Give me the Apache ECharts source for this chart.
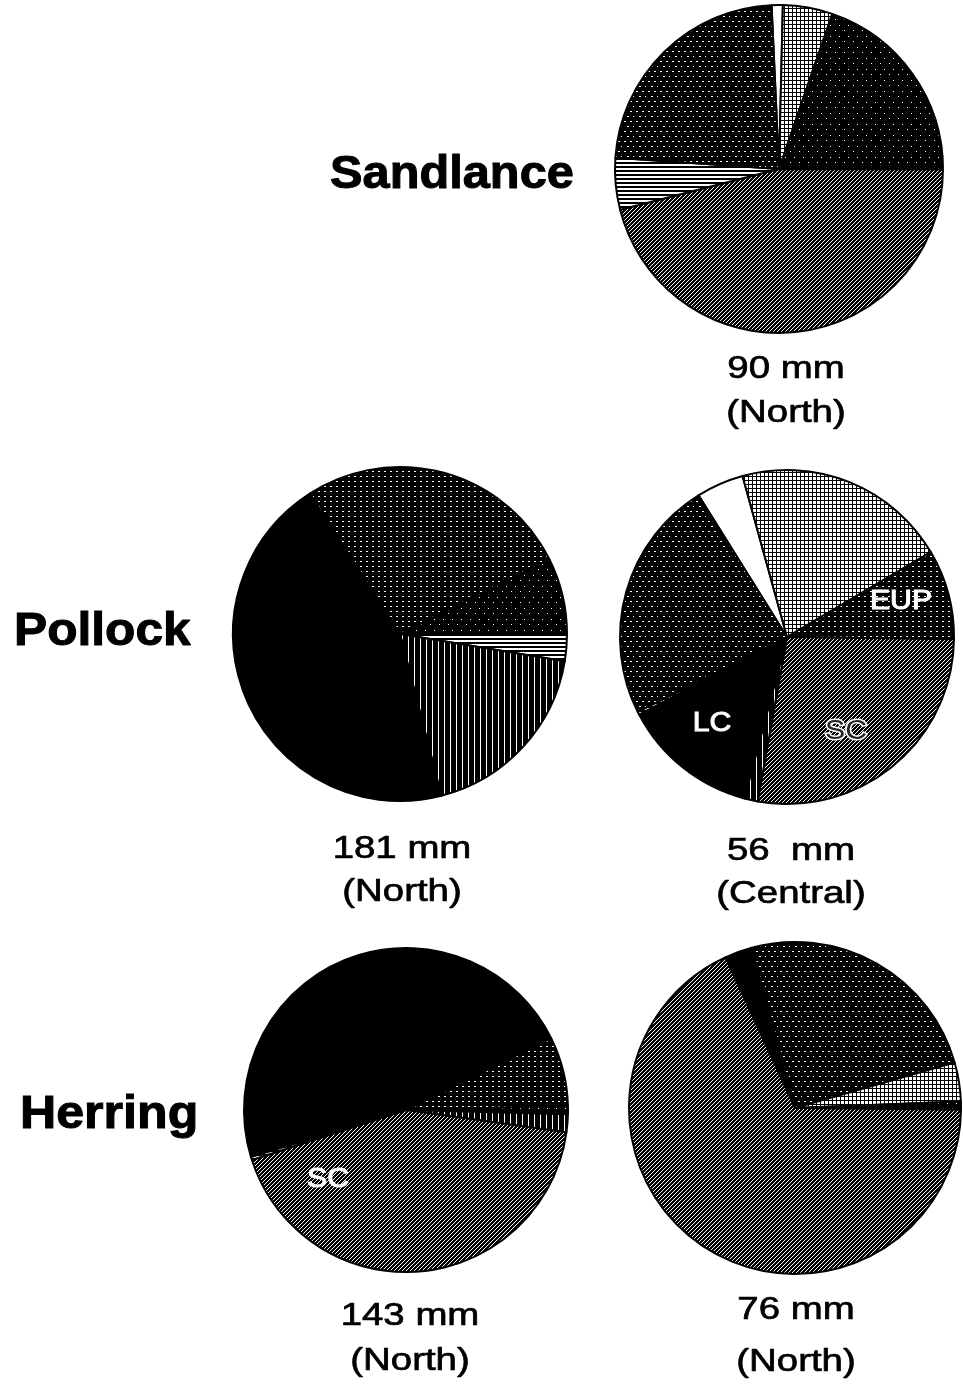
<!DOCTYPE html>
<html>
<head>
<meta charset="utf-8">
<title>Diet composition pies</title>
<script src="https://cdn.jsdelivr.net/npm/echarts@6/dist/echarts.min.js"></script>
<style>
  html, body { margin: 0; padding: 0; background: #fff; }
  #chart { width: 963px; height: 1385px; }
</style>
</head>
<body>
<div id="chart"></div>
<script>
// ---- data: percent of diet by prey group, listed clockwise ----
const sandlanceNorth90Prey = ['Fish', 'Larvaceans', 'Decapod larvae', 'Small copepods', 'Pteropods', 'Other'];
const sandlanceNorth90Pct  = [1.1, 4.9, 19.8, 46.0, 5.1, 23.2];

const pollockNorth181Prey = ['Euphausiids', 'Decapod larvae', 'Pteropods', 'Amphipods', 'Large copepods'];
const pollockNorth181Pct  = [26.7, 7.4, 2.6, 18.4, 44.9];

const pollockCentral56Prey = ['Fish', 'Larvaceans', 'Euphausiids', 'Small copepods', 'Amphipods', 'Large copepods', 'Pteropods', 'Other'];
const pollockCentral56Pct  = [4.6, 20.8, 8.7, 27.6, 1.3, 13.2, 0.3, 23.5];

const herringNorth143Prey = ['Large copepods', 'Euphausiids', 'Decapod larvae', 'Amphipods', 'Small copepods', 'Pteropods'];
const herringNorth143Pct  = [47.4, 6.9, 0.8, 1.8, 42.8, 0.3];

const herringNorth76Prey = ['Large copepods', 'Other', 'Larvaceans', 'Decapod larvae', 'Small copepods'];
const herringNorth76Pct  = [2.7, 24.8, 3.8, 0.8, 68.0];

// ---- text ----
const speciesTitles = ['Sandlance', 'Pollock', 'Herring'];
const pieCaptions = [
  ['90 mm', '(North)'],
  ['181 mm', '(North)'],
  ['56  mm', '(Central)'],
  ['143 mm', '(North)'],
  ['76 mm', '(North)']
];
const sliceTags = ['EUP', 'LC', 'SC', 'SC'];

// ---- monochrome fill patterns, one per prey group ----
function tile(w, h, isWhite) {
  const c = document.createElement('canvas');
  c.width = w; c.height = h;
  const ctx = c.getContext('2d');
  const img = ctx.createImageData(w, h);
  for (let y = 0; y < h; y++) {
    for (let x = 0; x < w; x++) {
      const v = isWhite(x, y) ? 255 : 0;
      const i = (y * w + x) * 4;
      img.data[i] = v; img.data[i + 1] = v; img.data[i + 2] = v; img.data[i + 3] = 255;
    }
  }
  ctx.putImageData(img, 0, 0);
  return { image: c, repeat: 'repeat' };
}
function tileFromRows(rows) {
  return tile(rows[0].length, rows.length, (x, y) => rows[y][x] === '.');
}

const fills = {
  'Small copepods': tile(4, 4, (x, y) => (x + y) % 4 === 0),              // diagonal hatch
  'Large copepods': '#000',                                               // solid black
  'Euphausiids':    tile(6, 5, (x, y) => x % 6 < 2 && y % 5 === 1),       // white dots on black
  'Other': tileFromRows([                                                 // white dashes on black
    '############',
    '..####..####',
    '############',
    '############',
    '############',
    '############',
    '###..####.##',
    '############',
    '############',
    '############'
  ]),
  'Larvaceans':     tile(4, 4, (x, y) => x % 4 !== 0 && y % 4 !== 0),     // open grid
  'Fish':           '#fff',
  'Amphipods':      tile(6, 1, (x) => x === 0),                           // vertical lines
  'Pteropods':      tile(1, 4, (x, y) => y < 2),                          // horizontal lines
  'Decapod larvae': tile(9, 11, (x, y) => (x === 2 && y === 3) || (x === 7 && y === 8)) // near black
};

function pieData(names, values) {
  return names.map((n, i) => ({ name: n, value: values[i], itemStyle: { color: fills[n] } }));
}

function pieSeries(center, radius, startAngle, names, values) {
  return {
    type: 'pie',
    center: center,
    radius: radius,
    startAngle: startAngle,
    clockwise: true,
    silent: true,
    animation: false,
    avoidLabelOverlap: false,
    label: { show: false },
    labelLine: { show: false },
    itemStyle: { borderColor: '#000', borderWidth: 2 },
    data: pieData(names, values)
  };
}

const titleFont = 'bold 46px "Liberation Sans", Arial, Helvetica, sans-serif';
const captionFont = '32px "Liberation Sans", Arial, Helvetica, sans-serif';
const tagFont = '27px "Liberation Sans", Arial, Helvetica, sans-serif';

function txt(text, x, y, font, align, sx, extra) {
  return {
    type: 'text', x: x, y: y, scaleX: sx, silent: true, z: 100,
    style: Object.assign({
      text: text, font: font, fill: '#000',
      align: align, textAlign: align,
      verticalAlign: 'middle', textVerticalAlign: 'middle'
    }, extra || {})
  };
}

const inkHeavy = { stroke: '#000', lineWidth: 1 };
const inkCaption = { stroke: '#000', lineWidth: 0.7 };

const captionPos = [
  [786, 369, 413],
  [402, 849, 892],
  [791, 851, 894],
  [410, 1316, 1361],
  [796, 1310, 1362]
];

const graphics = [
  txt(speciesTitles[0], 330, 175, titleFont, 'left', 1.06, inkHeavy),
  txt(speciesTitles[1], 14, 632, titleFont, 'left', 1.08, inkHeavy),
  txt(speciesTitles[2], 20, 1115, titleFont, 'left', 1.09, inkHeavy)
];
pieCaptions.forEach((c, i) => {
  graphics.push(txt(c[0], captionPos[i][0], captionPos[i][1], captionFont, 'center', 1.2, inkCaption));
  graphics.push(txt(c[1], captionPos[i][0], captionPos[i][2], captionFont, 'center', 1.2, inkCaption));
});
graphics.push(txt(sliceTags[0], 901, 602, tagFont, 'center', 1.12, { fill: '#fff', stroke: '#fff', lineWidth: 1 }));
graphics.push(txt(sliceTags[1], 712, 724, tagFont, 'center', 1.12, { fill: '#fff', stroke: '#fff', lineWidth: 1 }));
graphics.push(txt(sliceTags[2], 846, 732, tagFont, 'center', 1.12, { fill: '#222', stroke: '#fff', lineWidth: 3 }));
graphics.push(txt(sliceTags[3], 328, 1180, tagFont, 'center', 1.12, { fill: '#fff', stroke: '#fff', lineWidth: 1 }));

const chart = echarts.init(document.getElementById('chart'), null, { renderer: 'canvas', width: 963, height: 1385 });
chart.setOption({
  backgroundColor: '#fff',
  animation: false,
  series: [
    pieSeries([779, 169], 164, 92.6, sandlanceNorth90Prey, sandlanceNorth90Pct),
    pieSeries([400, 634], 167, 122.7, pollockNorth181Prey, pollockNorth181Pct),
    pieSeries([787, 637], 167, 122, pollockCentral56Prey, pollockCentral56Pct),
    pieSeries([406, 1110], 162, 196.9, herringNorth143Prey, herringNorth143Pct),
    pieSeries([795, 1108], 166, 114.8, herringNorth76Prey, herringNorth76Pct)
  ],
  graphic: { elements: graphics }
});
</script>
</body>
</html>
